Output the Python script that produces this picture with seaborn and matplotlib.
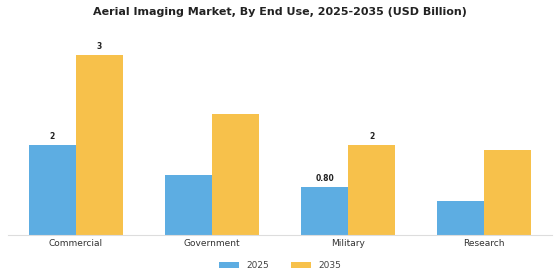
import matplotlib
matplotlib.use("Agg")
import matplotlib.pyplot as plt
import seaborn as sns
import pandas as pd

categories = ["Commercial", "Government", "Military", "Research"]
years = ["2025", "2035"]
values_2025 = [1.5, 1.0, 0.80, 0.57]
values_2035 = [3.02, 2.02, 1.5, 1.43]
# which bars carry a value label (same order as values)
labels_2025 = ["2", "", "0.80", ""]
labels_2035 = ["3", "", "2", ""]

colors = ["#5DADE2", "#F7C14B"]

df = pd.DataFrame({
    "End Use": categories * 2,
    "Year": [years[0]] * 4 + [years[1]] * 4,
    "Value": values_2025 + values_2035,
})

sns.set_style("white")
fig = plt.figure(figsize=(5.6, 2.8), dpi=100)
ax = fig.add_axes([0.014, 0.161, 0.972, 0.714])

sns.barplot(data=df, x="End Use", y="Value", hue="Year", palette=colors,
            width=0.69, saturation=1, linewidth=0, ax=ax, legend=True)

ax.set_ylim(0, 3.35)
ax.set_xlim(-0.5, 3.5)
ax.set_yticks([])
ax.set_xlabel("")
ax.set_ylabel("")
for side in ["top", "right", "left"]:
    ax.spines[side].set_visible(False)
ax.spines["bottom"].set_color("#dddddd")
ax.spines["bottom"].set_linewidth(0.8)
ax.tick_params(axis="x", length=0, labelsize=6.5, colors="#333333", pad=3)

for container, labels in zip(ax.containers, [labels_2025, labels_2035]):
    ax.bar_label(container, labels=labels, padding=3, fontsize=5.5,
                 fontweight="bold", color="#222222")

ax.legend(loc="upper center", bbox_to_anchor=(0.5, -0.09), ncol=2,
          frameon=False, fontsize=6.5, handlelength=2.2, handleheight=0.6,
          columnspacing=2.5, labelcolor="#444444")

fig.suptitle("Aerial Imaging Market, By End Use, 2025-2035 (USD Billion)",
             fontsize=8, fontweight="bold", y=0.975, color="#222222")

fig.savefig("out.png", dpi=100)
